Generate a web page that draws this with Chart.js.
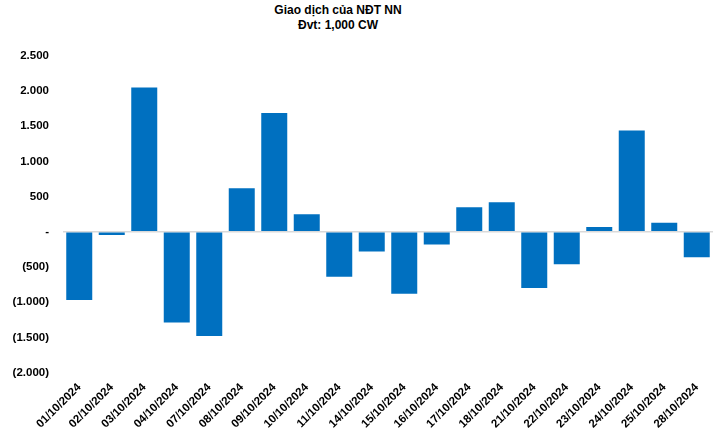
<!DOCTYPE html>
<html lang="en">
<head>
    <meta charset="UTF-8">
    <title>Giao dịch của NĐT NN</title>
    <script src="https://cdn.jsdelivr.net/npm/chart.js"></script>
    <style>
        body {
            margin: 0;
            padding: 0;
            background: #fff;
            font-family: Arial, "Liberation Sans", sans-serif;
        }
        .title {
            width: 724px;
            box-sizing: border-box;
            padding-right: 48px;
            padding-top: 3px;
            text-align: center;
            font-weight: bold;
            font-size: 12px;
            line-height: 15px;
            color: #000;
        }
        .chartBox {
            position: absolute;
            left: 0;
            top: 35px;
            width: 724px;
            height: 402px;
        }
    </style>
</head>
<body>
    <div class="title">Giao dịch của NĐT NN<br>Đvt: 1,000 CW</div>
    <div class="chartBox">
        <canvas id="myChart"></canvas>
    </div>
    <script>
        const dates = ['01/10/2024', '02/10/2024', '03/10/2024', '04/10/2024', '07/10/2024',
            '08/10/2024', '09/10/2024', '10/10/2024', '11/10/2024', '14/10/2024',
            '15/10/2024', '16/10/2024', '17/10/2024', '18/10/2024', '21/10/2024',
            '22/10/2024', '23/10/2024', '24/10/2024', '25/10/2024', '28/10/2024'];
        const netValue = [-970, -45, 2050, -1290, -1480, 620, 1690, 250, -640, -280,
            -880, -180, 350, 420, -800, -460, 70, 1440, 130, -360];

        // excel style: 1.000 / (1.000) / -
        function fmt(v) {
            if (v === 0) return '-';
            const s = Math.abs(v).toString().replace(/\B(?=(\d{3})+(?!\d))/g, '.');
            return v < 0 ? '(' + s + ')' : s;
        }

        const ctx = document.getElementById('myChart');
        const myChart = new Chart(ctx, {
            type: 'bar',
            data: {
                labels: dates,
                datasets: [{
                    data: netValue,
                    backgroundColor: '#0070c0',
                    borderWidth: 0,
                    barPercentage: 0.8,
                    categoryPercentage: 1.0
                }]
            },
            options: {
                responsive: true,
                maintainAspectRatio: false,
                animation: false,
                layout: {
                    padding: { top: 8, right: 11, left: 0, bottom: 0 }
                },
                plugins: {
                    legend: { display: false },
                    tooltip: { enabled: false }
                },
                scales: {
                    x: {
                        grid: { display: false, drawTicks: false },
                        border: { display: false },
                        ticks: {
                            color: '#000',
                            font: { family: 'Arial', size: 11.5, weight: 'bold' },
                            minRotation: 45,
                            maxRotation: 45,
                            autoSkip: false,
                            padding: 8
                        },
                        // no extra room for the slanted labels
                        afterFit: (s) => { s.paddingLeft = 0; s.paddingRight = 0; s.height -= 2; }
                    },
                    y: {
                        min: -2000,
                        max: 2500,
                        border: { display: false },
                        grid: {
                            drawTicks: false,
                            lineWidth: 1.5,
                            color: (c) => c.tick && c.tick.value === 0 ? '#d9d9d9' : 'rgba(0,0,0,0)'
                        },
                        ticks: {
                            stepSize: 500,
                            color: '#000',
                            padding: 14,
                            font: { family: 'Arial', size: 11.5, weight: 'bold' },
                            callback: (v) => fmt(v)
                        },
                        afterFit: (s) => { s.width = 63; }
                    }
                }
            }
        });
    </script>
</body>
</html>
